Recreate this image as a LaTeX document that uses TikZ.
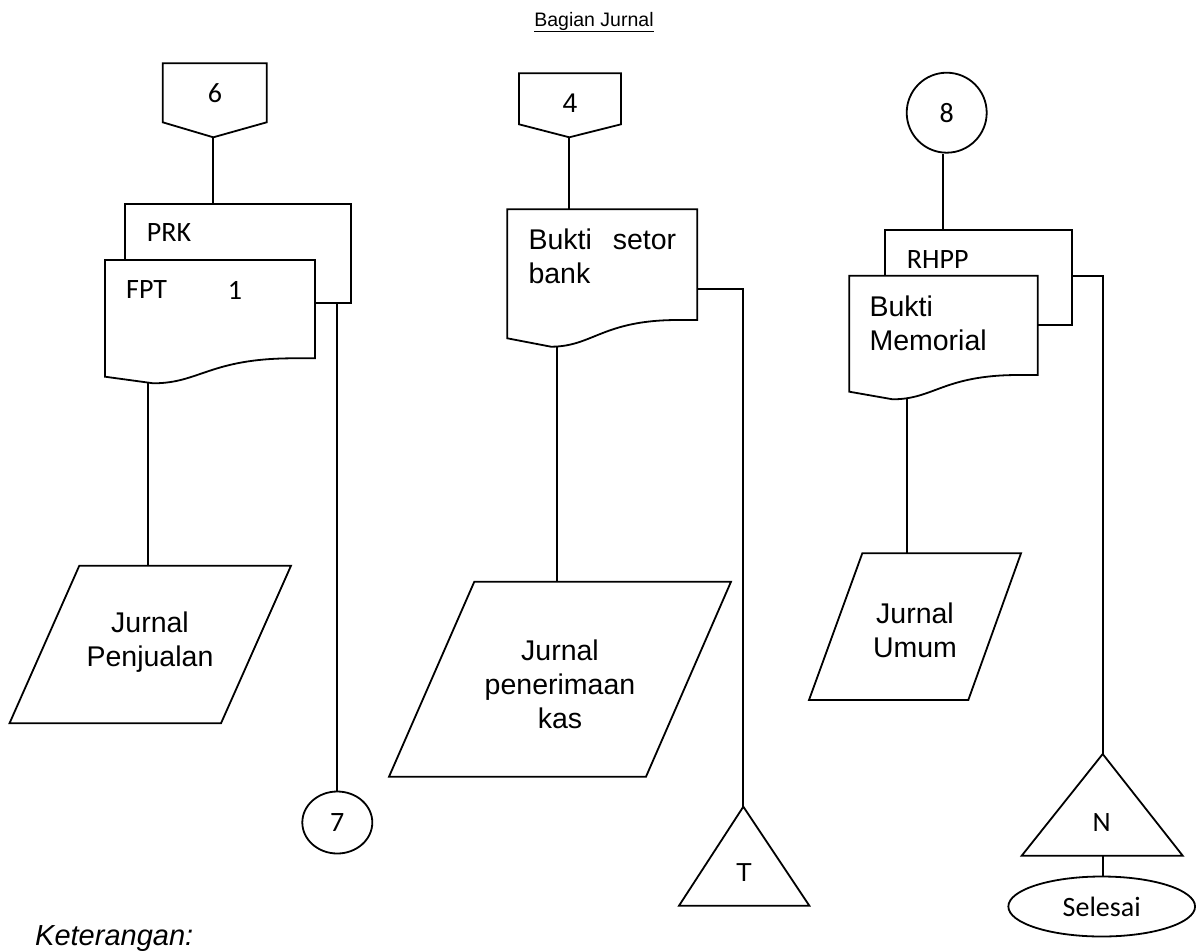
\documentclass[tikz,border=0pt]{standalone}
\usepackage{fontspec}
\setmainfont{Liberation Sans}
\newfontfamily\carlito{Carlito}
\newcommand\arialsz{\fontsize{28.5}{34}\selectfont}
\newcommand\carlitosz{\carlito\fontsize{28}{33}\selectfont}
\usetikzlibrary{calc,shapes.geometric}

% document symbol: left, top, right, right-bottom y, left-bottom y, wave-low y
\newcommand\docshape[6]{%
  \draw[sym] (#1,#2) -- (#3,#2) -- (#3,#4) -- ({#3-0.1*(#3-#1)},#4)
    .. controls ({#1+0.5*(#3-#1)},#4) and ({#1+0.45*(#3-#1)},#6) .. ({#1+0.23*(#3-#1)},#6)
    -- (#1,#5) -- cycle;}

\begin{document}
\begin{tikzpicture}[x=1pt,y=-1pt,
  sym/.style={draw, line width=1.8pt, fill=white, line join=miter},
  link/.style={draw, line width=1.8pt},
  txt/.style={inner sep=0pt, font=\arialsz},
  ctxt/.style={inner sep=0pt, font=\carlitosz},
  ]
\useasboundingbox (0,0) rectangle (1201,950);

% heading
\node[inner sep=0pt, font=\fontsize{19.5}{22}\selectfont] (title) at (594,22) {\underline{Bagian Jurnal}};

% ---------------- left column ----------------
\draw[sym] (162.7,63.3) -- (266.7,63.3) -- (266.7,122.3) -- (213.3,137.3) -- (162.7,122.3) -- cycle;
\node[ctxt] (op6) at (215,93) {6};
\coordinate (op6-b) at (213.3,137.3);
\coordinate (prk-t) at (213.3,204);
\coordinate (prk-out) at (337.3,303);
\coordinate (fpt-b) at (148,382.5);

\draw[link] (op6-b) -- (prk-t);
\draw[sym] (125,204) rectangle (351,303);
\node[ctxt, anchor=west] (prk) at (146.7,233) {PRK};
\docshape{105}{260}{315}{358.3}{376.7}{383.3}
\node[ctxt, anchor=west] (fpt) at (126,290) {FPT};
\node[ctxt] (fpt1) at (235,290) {1};

\draw[sym] (79.3,565.7) -- (291,565.7) -- (221,723.3) -- (9.5,723.3) -- cycle;
\node[txt, align=center] (jp) at (150,642) {Jurnal\\Penjualan};
\coordinate (jp-t) at (148,565.7);
\draw[link] (fpt-b) -- (jp-t);

\node[sym, ellipse, minimum width=70pt, minimum height=62pt, inner sep=0pt, font=\carlitosz] (c7) at (337.3,822.5) {7};
\draw[link] (prk-out) -- (c7.north);

% ---------------- middle column ----------------
\draw[sym] (519,73.3) -- (621,73.3) -- (621,124.3) -- (569.3,137.3) -- (519,124.3) -- cycle;
\node[inner sep=0pt, font=\fontsize{27}{30}\selectfont] (op4) at (570,103) {4};
\coordinate (op4-b) at (569.3,137.3);
\coordinate (bsb-t) at (569.3,209.3);
\coordinate (bsb-out) at (697.3,289.3);
\coordinate (bsb-b) at (557.3,346);
\draw[link] (op4-b) -- (bsb-t);
\docshape{507.3}{209.3}{697.3}{320}{338.3}{346.7}
\node[txt, anchor=west, text width=147.7pt, align=left] (bsb) at (528.3,256) {Bukti\hfill setor\\bank};

\draw[sym] (474.3,581.7) -- (731,581.7) -- (646,776.7) -- (389,776.7) -- cycle;
\node[txt, align=center] (jpk) at (560,684) {Jurnal\\penerimaan\\kas};
\coordinate (jpk-t) at (557.3,581.7);
\draw[link] (bsb-b) -- (jpk-t);

\draw[sym] (743.3,806.7) -- (809.3,905.7) -- (679,905.7) -- cycle;
\coordinate (tT-apex) at (743.3,806.7);
\node[inner sep=0pt, font=\fontsize{26}{30}\selectfont] (tT) at (744,873) {T};
\draw[link] (bsb-out) -| (tT-apex);

% ---------------- right column ----------------
\node[sym, circle, minimum size=80pt, inner sep=0pt, font=\carlitosz] (c8) at (946.7,112.7) {8};
\coordinate (rhpp-t) at (943,230);
\coordinate (rhpp-out) at (1071.7,276);
\coordinate (bm-b) at (906.7,398.5);
\draw[link] (rhpp-t) -- (rhpp-t |- c8.south);
\draw[sym] (885,230) rectangle (1071.7,325);
\node[ctxt, anchor=west] (rhpp) at (906.7,260) {RHPP};
\docshape{849.3}{275.7}{1037.7}{375}{391.7}{399.3}
\node[txt, anchor=west, align=left] (bm) at (869.3,323) {Bukti\\Memorial};

\draw[sym] (862.3,553.3) -- (1021,553.3) -- (968.3,700) -- (809,700) -- cycle;
\node[txt, align=center] (ju) at (915,630) {Jurnal\\Umum};
\coordinate (ju-t) at (906.7,553.3);
\draw[link] (bm-b) -- (ju-t);

\draw[sym] (1102.7,754) -- (1182.7,855.7) -- (1021.7,855.7) -- cycle;
\coordinate (tN-apex) at (1102.7,754);
\coordinate (tN-base) at (1102.7,855.7);
\node[ctxt] (tN) at (1101.7,823) {N};
\draw[link] (rhpp-out) -| (tN-apex);

\node[sym, ellipse, minimum width=186.7pt, minimum height=60pt, inner sep=0pt, font=\carlitosz] (end) at (1101.7,906.5) {Selesai};
\draw[link] (tN-base) -- (end.north -| tN-base);

% legend heading
\node[inner sep=0pt, anchor=base west, font=\itshape\fontsize{29}{33}\selectfont] (ket) at (35,945) {Keterangan:};
\end{tikzpicture}
\end{document}
